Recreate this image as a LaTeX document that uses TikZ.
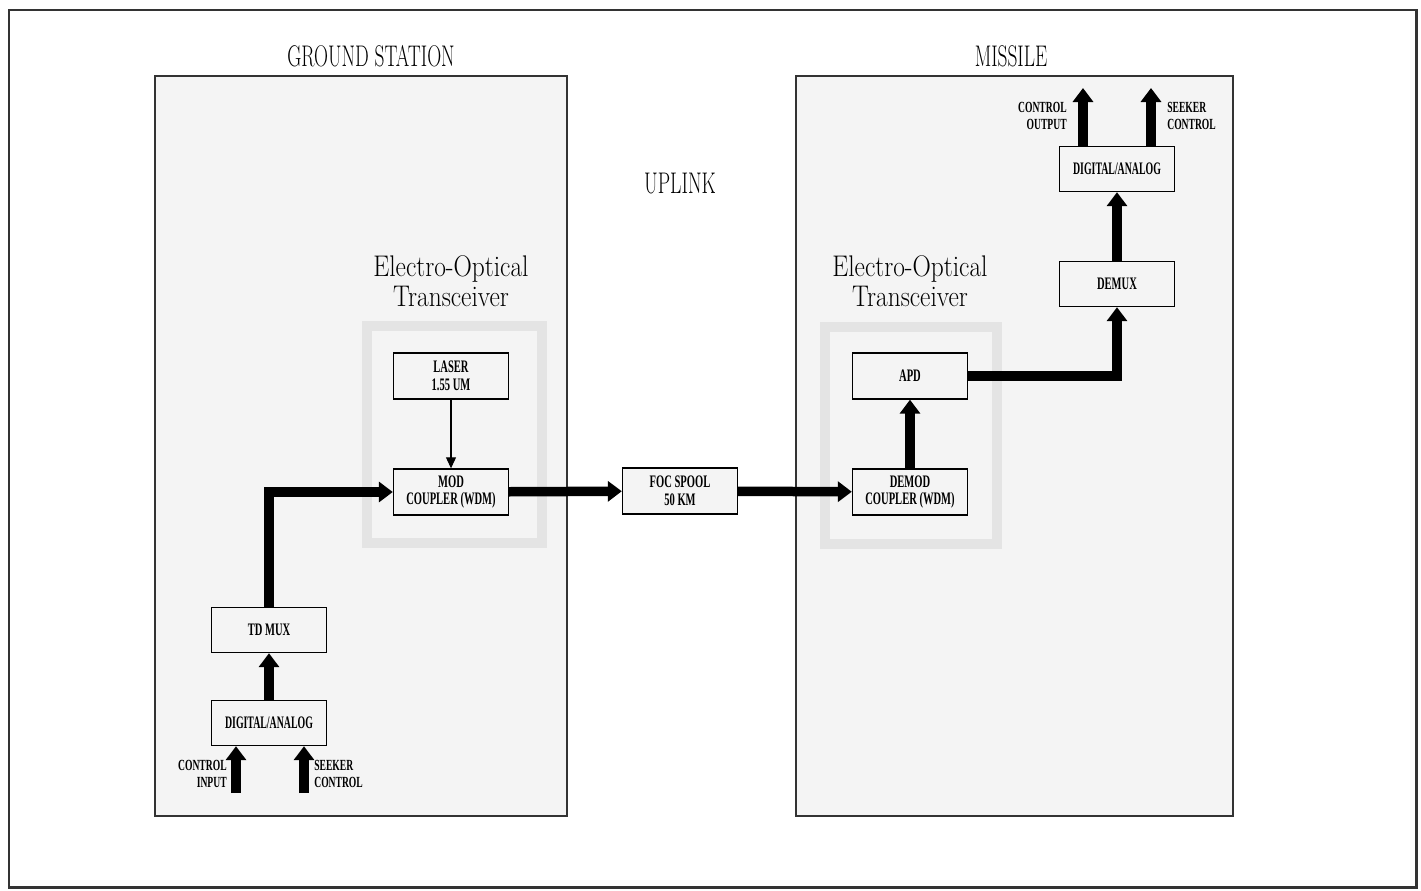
\documentclass[tikz,border=0pt]{standalone}
\usepackage{fontspec}
\usepackage{tikz}
\usetikzlibrary{arrows.meta,positioning}
\newfontfamily\unitfont{Liberation Serif}
\definecolor{panelgrey}{HTML}{F4F4F4}
\definecolor{zonegrey}{HTML}{E4E4E4}
\definecolor{inkgrey}{HTML}{333333}
\newcommand{\squeeze}[2][0.6]{\scalebox{#1}[1]{#2}}
\tikzset{
  frame/.style={
    draw=inkgrey,
    line width=1.7pt
  },
  panel/.style={
    draw=inkgrey,
    fill=panelgrey,
    line width=1pt
  },
  zone/.style={
    draw=zonegrey,
    line width=0.2cm
  },
  unitbox/.style={
    draw=black,
    fill=panelgrey,
    line width=0.8pt,
    minimum width=2.3cm,
    minimum height=0.92cm,
    inner sep=0pt,
    align=center,
    font=\unitfont\bfseries\fontsize{10}{10}\selectfont
  },
  heading/.style={
    align=center,
    font=\fontsize{17}{17}\selectfont
  },
  portlabel/.style={
    inner sep=0pt,
    font=\unitfont\bfseries\fontsize{8.8}{9.6}\selectfont
  },
  fatarrow/.style={
    -{Triangle[length=0.28cm,width=0.4cm]},
    line width=0.19cm,
    line join=miter
  },
  thinarrow/.style={
    -{Triangle[length=0.22cm,width=0.2cm]},
    line width=0.6pt
  }
}
\begin{document}
\begin{tikzpicture}[x=0.02cm,y=-0.02cm]
\useasboundingbox (0,0) rectangle (1421,890);
\draw[frame] (9,10) rectangle (1416,887);

% ground station and missile panels
\draw[panel] (155,76) rectangle (567,816);
\draw[panel] (796,76) rectangle (1233,816);
\draw[zone] (367,326) rectangle (542,543);
\draw[zone] (825,327) rectangle (997,544);

\node[heading] (groundtitle) at (371,56) {\squeeze[0.65]{GROUND STATION}};
\node[heading] (missiletitle) at (1011,56) {\squeeze[0.65]{MISSILE}};
\node[heading] (uplink) at (680,184) {\squeeze[0.66]{UPLINK}};
\node[heading] (eotleft) at (451,281) {\squeeze[0.85]{Electro-Optical}\\\squeeze[0.85]{Transceiver}};
\node[heading] (eotright) at (910,281) {\squeeze[0.85]{Electro-Optical}\\\squeeze[0.85]{Transceiver}};

% units
\node[unitbox] (laser) at (451,376) {\squeeze{LASER}\\\squeeze{1.55 UM}};
\node[unitbox] (mod) at (451,492) {\squeeze{MOD}\\\squeeze{COUPLER (WDM)}};
\node[unitbox] (foc) at (680,491) {\squeeze{FOC SPOOL}\\\squeeze{50 KM}};
\node[unitbox] (demod) at (910,492) {\squeeze{DEMOD}\\\squeeze{COUPLER (WDM)}};
\node[unitbox] (apd) at (910,376) {\squeeze{APD}};
\node[unitbox, minimum height=0.9cm] (demux) at (1117,284) {\squeeze{DEMUX}};
\node[unitbox, minimum height=0.9cm] (daright) at (1117,169) {\squeeze[0.56]{DIGITAL/ANALOG}};
\node[unitbox, minimum height=0.9cm] (tdmux) at (269,630) {\squeeze{TD MUX}};
\node[unitbox, minimum height=0.9cm] (daleft) at (269,723) {\squeeze[0.56]{DIGITAL/ANALOG}};

% free ends
\coordinate (ctrlin) at (236,793);
\coordinate (seekin) at (304,793);
\coordinate (ctrlout) at (1083,88);
\coordinate (seekout) at (1151,88);

\node[portlabel, anchor=east, align=right] (ctrlinlabel) at (227,774) {\squeeze[0.62]{CONTROL}\\\squeeze[0.62]{INPUT}};
\node[portlabel, anchor=west, align=left] (seekinlabel) at (314,774) {\squeeze[0.62]{SEEKER}\\\squeeze[0.62]{CONTROL}};
\node[portlabel, anchor=east, align=right] (ctrloutlabel) at (1067,116) {\squeeze[0.62]{CONTROL}\\\squeeze[0.62]{OUTPUT}};
\node[portlabel, anchor=west, align=left] (seekoutlabel) at (1167,116) {\squeeze[0.62]{SEEKER}\\\squeeze[0.62]{CONTROL}};

% connectors
\draw[fatarrow] (ctrlin) -- (ctrlin |- daleft.south);
\draw[fatarrow] (seekin) -- (seekin |- daleft.south);
\draw[fatarrow] (daleft) -- (tdmux);
\draw[fatarrow] (tdmux.north) |- (mod.west);
\draw[thinarrow] (laser) -- (mod);
\draw[fatarrow] (mod) -- (foc);
\draw[fatarrow] (foc) -- (demod);
\draw[fatarrow] (demod) -- (apd);
\draw[fatarrow] (apd.east) -| (demux.south);
\draw[fatarrow] (demux) -- (daright);
\draw[fatarrow] (daright.north -| ctrlout) -- (ctrlout);
\draw[fatarrow] (daright.north -| seekout) -- (seekout);
\end{tikzpicture}
\end{document}
